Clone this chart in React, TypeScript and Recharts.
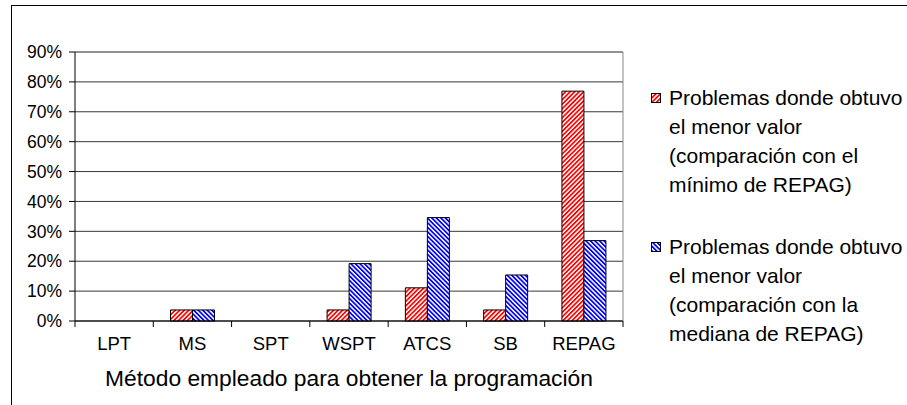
import { BarChart, Bar, XAxis, YAxis, CartesianGrid, ReferenceLine } from "recharts";

const metodos = ["LPT", "MS", "SPT", "WSPT", "ATCS", "SB", "REPAG"];
const minimoRepag = [0, 0.037, 0, 0.037, 0.111, 0.037, 0.769];
const medianaRepag = [0, 0.037, 0, 0.192, 0.346, 0.154, 0.269];
const yTicks = [0, 0.1, 0.2, 0.3, 0.4, 0.5, 0.6, 0.7, 0.8, 0.9];
const seriesNames = [
  "Problemas donde obtuvo\nel menor valor\n(comparación con el\nmínimo de REPAG)",
  "Problemas donde obtuvo\nel menor valor\n(comparación con la\nmediana de REPAG)",
];
const xTitle = "Método empleado para obtener la programación";

const data = metodos.map((m, i) => ({ metodo: m, minimo: minimoRepag[i], mediana: medianaRepag[i] }));

const W = 907;
const H = 405;
const FONT = "'Liberation Sans', Arial, sans-serif";
const margin = { top: 52, right: 283, bottom: 0, left: 0 };
const Y_W = 75;
const PLOT_W = W - margin.left - margin.right - Y_W - 1;
const HALF_BAND = PLOT_W / metodos.length / 2;

const pct = (v: number) => `${Math.round(v * 100)}%`;

function Hatch({ id, color, angle }: { id: string; color: string; angle: number }) {
  return (
    <pattern id={id} width="3.2" height="3.2" patternUnits="userSpaceOnUse" patternTransform={`rotate(${angle})`}>
      <rect width="3.2" height="3.2" fill="#fff" />
      <rect width="1.7" height="3.2" fill={color} />
    </pattern>
  );
}

function XTick(props: any) {
  const { x, y, payload, index } = props;
  const last = index === metodos.length - 1;
  return (
    <g>
      <line x1={x - HALF_BAND} x2={x - HALF_BAND} y1={y} y2={y + 6} stroke="#000" />
      {last && <line x1={x + HALF_BAND} x2={x + HALF_BAND} y1={y} y2={y + 6} stroke="#000" />}
      <text x={x} y={y + 29} textAnchor="middle" fontSize={18.5} fill="#000" fontFamily={FONT}>
        {payload.value}
      </text>
    </g>
  );
}

const legendItems = [
  { name: seriesNames[0], color: "#ff0000", angle: 45, top: 82.5, sw: 93 },
  { name: seriesNames[1], color: "#0000ff", angle: -45, top: 231.5, sw: 242 },
];

export default function App() {
  return (
    <div style={{ position: "absolute", left: 0, top: 0, width: W, height: H, background: "#fff", fontFamily: FONT, overflow: "hidden" }}>
      <div style={{ position: "absolute", left: 11, top: 5, width: W, height: H, borderTop: "1px solid #000", borderLeft: "1px solid #000" }} />
      <BarChart
        width={W}
        height={H}
        data={data}
        margin={margin}
        barCategoryGap="22%"
        barGap={0}
        style={{ position: "absolute", left: 0, top: 0 }}
      >
        <defs>
          <Hatch id="hRed" color="#ff0000" angle={45} />
          <Hatch id="hBlue" color="#0000ff" angle={-45} />
        </defs>
        <CartesianGrid vertical={false} stroke="#222" strokeOpacity={0.9} />
        <XAxis
          dataKey="metodo"
          height={84}
          tickLine={false}
          tickSize={0}
          tickMargin={0}
          axisLine={{ stroke: "#000" }}
          tick={<XTick />}
          interval={0}
          label={{ value: xTitle, position: "insideBottom", offset: 19, fontSize: 22.8, fill: "#000", fontFamily: FONT }}
        />
        <YAxis
          width={Y_W}
          domain={[0, 0.9]}
          ticks={yTicks}
          interval={0}
          tickFormatter={pct}
          tickSize={6}
          tickMargin={7}
          axisLine={{ stroke: "#000" }}
          tickLine={{ stroke: "#000" }}
          tick={{ fontSize: 17.5, fill: "#000", fontFamily: FONT }}
        />
        <YAxis yAxisId="borde" orientation="right" width={1} domain={[0, 0.9]} tick={false} tickLine={false} axisLine={{ stroke: "#888" }} />
        <ReferenceLine y={0.9} stroke="#888" />
        <Bar dataKey="minimo" fill="url(#hRed)" stroke="#000" strokeWidth={1} isAnimationActive={false} />
        <Bar dataKey="mediana" fill="url(#hBlue)" stroke="#000" strokeWidth={1} isAnimationActive={false} />
      </BarChart>
      {legendItems.map((it, i) => (
        <div key={i}>
          <svg style={{ position: "absolute", left: 651, top: it.sw }} width={10} height={10}>
            <defs>
              <Hatch id={`lg${i}`} color={it.color} angle={it.angle} />
            </defs>
            <rect x={0.5} y={0.5} width={9} height={9} fill={`url(#lg${i})`} stroke="#000" />
          </svg>
          <div style={{ position: "absolute", left: 669, top: it.top, fontSize: 21, lineHeight: "29px", whiteSpace: "pre", color: "#000" }}>
            {it.name}
          </div>
        </div>
      ))}
    </div>
  );
}
